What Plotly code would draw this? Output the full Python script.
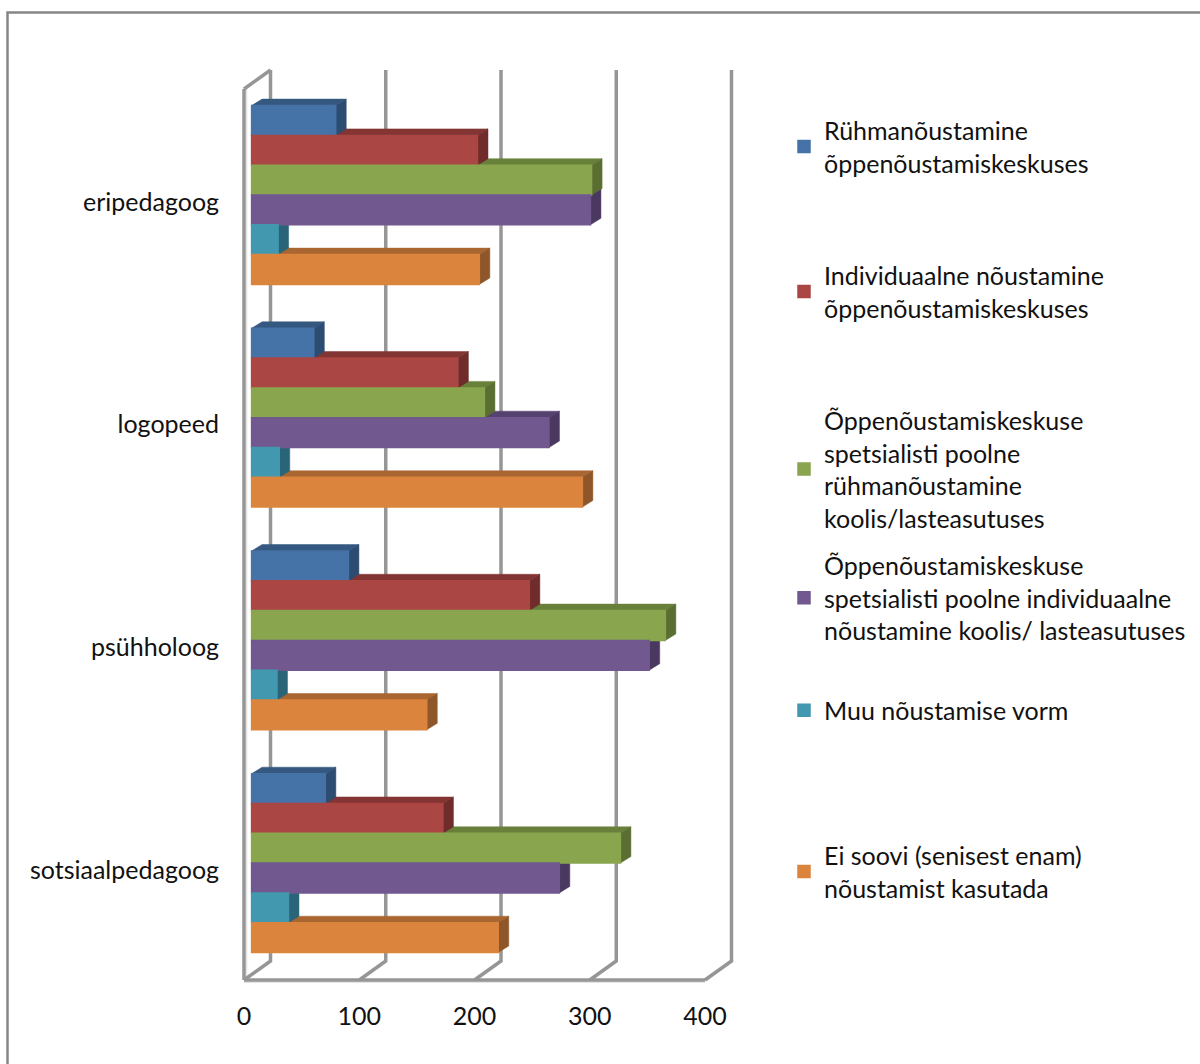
import plotly.graph_objects as go

categories = ["eripedagoog", "logopeed", "psühholoog", "sotsiaalpedagoog"]
series_names = [
    "Rühmanõustamine<br>õppenõustamiskeskuses",
    "Individuaalne nõustamine<br>õppenõustamiskeskuses",
    "Õppenõustamiskeskuse<br>spetsialisti poolne<br>rühmanõustamine<br>koolis/lasteasutuses",
    "Õppenõustamiskeskuse<br>spetsialisti poolne individuaalne<br>nõustamine koolis/ lasteasutuses",
    "Muu nõustamise vorm",
    "Ei soovi (senisest enam)<br>nõustamist kasutada",
]
ruhm = [73, 54, 84, 64]
individ = [196, 179, 241, 166]
spets_ruhm = [295, 202, 359, 320]
spets_indiv = [294, 258, 345, 267]
muu = [23, 24, 22, 32]
ei_soovi = [197.6, 287, 152, 214]
series_values = [ruhm, individ, spets_ruhm, spets_indiv, muu, ei_soovi]
x_ticks = [0, 100, 200, 300, 400]

front = ["#4572A7", "#AA4643", "#89A54E", "#71588F", "#4198AF", "#DB843D"]
top = ["#34587F", "#833533", "#69803A", "#56426E", "#2F7388", "#A96630"]
side = ["#2D4C72", "#6F2C2A", "#5A6E32", "#4A3860", "#296478", "#8F5729"]

# pixel geometry
W, H = 1200, 1064
L, R, T, B = 240, 750, 60, 985
X0_PX, SX = 244.0, 1.1525      # px of value 0 on the front edge, px per unit
Y0_PX, SY = 195.0, 222.7       # px of first category centre, px per category
FONT = "Lato"
FS = 25

dx = lambda px: px / SX
dy = lambda px: px / SY
px2x = lambda p: (p - X0_PX) / SX
px2y = lambda p: (p - Y0_PX) / SY
paper_x = lambda p: (p - L) / (R - L)
paper_y = lambda p: (B - p) / (B - T)

BAR_BASE = dx(7.6)
BAR_DX, BAR_DY = dx(10.5), dy(6.5)
BAR_H = 0.803 / 6
WALL_DX = dx(26.5)
FLOOR = px2y(980)
BACK_FLOOR = px2y(961)
BACK_TOP = px2y(70)
FRONT_TOP = px2y(89)
GRID = "#969696"

shapes = []
def line(xs, ys, color=GRID, width=3.5):
    path = "M" + " L".join(f"{a},{b}" for a, b in zip(xs, ys))
    shapes.append(dict(type="path", path=path, line=dict(color=color, width=width),
                       layer="below", xref="x", yref="y"))

def poly(xs, ys, color):
    path = "M" + " L".join(f"{a},{b}" for a, b in zip(xs, ys)) + " Z"
    shapes.append(dict(type="path", path=path, fillcolor=color, line=dict(color=color, width=0.5),
                       layer="below", xref="x", yref="y"))

# walls and floor
line([x_ticks[0], x_ticks[-1]], [FLOOR + dy(2), FLOOR + dy(2)], "#E4E4E4", 2)
line([x_ticks[0] + dx(2.5)] * 2, [FRONT_TOP, FLOOR], "#E4E4E4", 1.5)
line([x_ticks[0], x_ticks[-1]], [FLOOR, FLOOR])
line([x_ticks[0], x_ticks[0]], [FLOOR, FRONT_TOP])
line([x_ticks[0], x_ticks[0] + WALL_DX], [FRONT_TOP, BACK_TOP])
for t in x_ticks:
    line([t, t + WALL_DX, t + WALL_DX], [FLOOR, BACK_FLOOR, BACK_TOP])

# bar tops and ends, lowest series first
for s in range(len(series_values) - 1, -1, -1):
    for c, v in enumerate(series_values[s]):
        yt = c + (s - 3) * BAR_H
        yb = yt + BAR_H
        xe = BAR_BASE + v
        poly([BAR_BASE, BAR_BASE + BAR_DX, xe + BAR_DX, xe], [yt, yt - BAR_DY, yt - BAR_DY, yt], top[s])
        poly([xe, xe + BAR_DX, xe + BAR_DX, xe], [yt, yt - BAR_DY, yb - BAR_DY, yb], side[s])

# outer frame
shapes.append(dict(type="path",
                   path=f"M{paper_x(7.5)},{paper_y(1070)} L{paper_x(7.5)},{paper_y(12.5)} L{paper_x(1205)},{paper_y(12.5)}",
                   xref="paper", yref="paper", line=dict(color="#868686", width=2.5), layer="below"))

fig = go.Figure()
legend_layout = {}
for s, (name, vals) in enumerate(zip(series_names, series_values)):
    key = "legend" if s == 0 else f"legend{s + 1}"
    fig.add_trace(go.Bar(
        y=list(range(len(categories))), x=vals, base=BAR_BASE, orientation="h",
        name=name, legend=key, marker=dict(color=front[s], line=dict(color=front[s], width=1.5)),
        showlegend=True, hovertemplate="%{y}: %{x}<extra></extra>",
    ))
    legend_layout[key] = dict(
        x=paper_x(784), xanchor="left", y=paper_y(107.5 + 145 * s), yanchor="top",
        bgcolor="rgba(0,0,0,0)", borderwidth=0, font=dict(family=FONT, size=FS, color="#111111"),
        itemclick=False, itemdoubleclick=False,
    )

fig.update_layout(
    width=W, height=H, autosize=False, paper_bgcolor="white", plot_bgcolor="rgba(0,0,0,0)",
    margin=dict(l=L, r=W - R, t=T, b=H - B, pad=0, autoexpand=False),
    barmode="group", bargap=0.197, bargroupgap=0, shapes=shapes,
    font=dict(family=FONT, size=FS, color="#111111"),
    xaxis=dict(range=[px2x(L), px2x(R)], tickvals=x_ticks, showgrid=False, zeroline=False, showline=False,
               ticks="outside", ticklen=9, tickcolor="rgba(0,0,0,0)", tickfont=dict(family=FONT, size=FS)),
    yaxis=dict(range=[px2y(B), px2y(T)], tickvals=[c + dy(7) for c in range(len(categories))],
               ticktext=categories, showgrid=False, zeroline=False, showline=False,
               ticks="outside", ticklen=15, tickcolor="rgba(0,0,0,0)", tickfont=dict(family=FONT, size=FS)),
    **legend_layout,
)
fig.write_html("out.html", config={"displayModeBar": False},
               post_script="document.body.style.margin='0';")
